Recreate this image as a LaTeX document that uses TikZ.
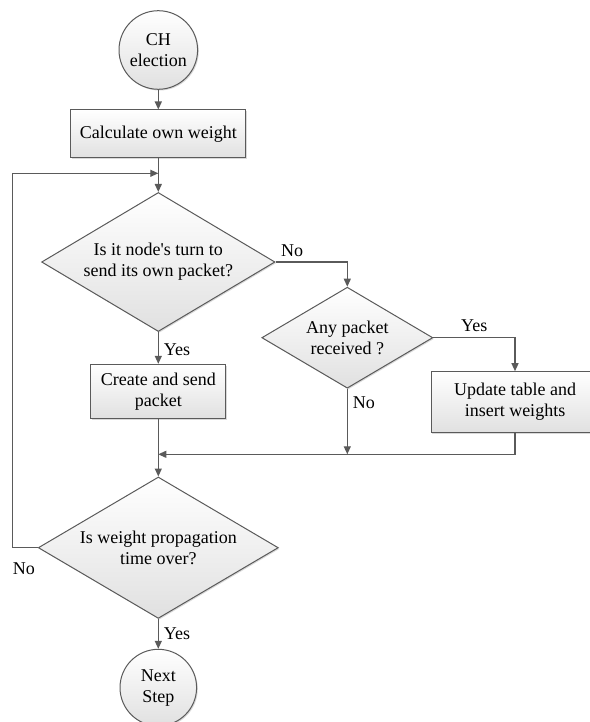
\documentclass[tikz,border=0pt]{standalone}
\usepackage{fontspec}
\setmainfont{Liberation Serif}
\usetikzlibrary{shapes.geometric,arrows.meta,shadows}
\definecolor{edge}{HTML}{5A5A5A}
\begin{document}
\begin{tikzpicture}[x=1pt,y=-1pt,
  font=\fontsize{18}{21}\selectfont,
  shape base/.style={draw=edge, line width=1pt, top color=white, bottom color=black!12,
    align=center, inner sep=0pt,
    drop shadow={shadow xshift=1.2pt, shadow yshift=-1.2pt, opacity=0.25, fill=black!60}},
  terminal/.style={shape base, circle, minimum size=#1},
  process/.style 2 args={shape base, rectangle, minimum width=#1, minimum height=#2},
  decision/.style n args={3}{shape base, diamond, aspect=#3, minimum width=#1, minimum height=#2},
  flow/.style={draw=edge, line width=1.2pt, -{Triangle[length=8pt,width=7pt]}},
  lbl/.style={inner sep=5pt}
]
\useasboundingbox (0,0) rectangle (589,722);

% nodes
\node[terminal=78.6pt] (ch) at (158.3,50) {CH\\election};
\node[process={175.3pt}{48pt}] (calc) at (158.3,134) {Calculate own weight};
\node[decision={233.4pt}{139pt}{1.679}] (d1) at (158.3,262) {Is it node\textquotesingle s turn to\\send its own packet?};
\node[decision={171pt}{101pt}{1.693}] (d2) at (347.3,337.7) {Any packet\\received ?};
\node[process={135pt}{54.4pt}] (create) at (158.3,391.5) {Create and send\\packet};
\node[process={168pt}{60.6pt}] (upd) at (515,402) {Update table and\\insert weights};
\node[decision={240pt}{141.4pt}{1.697}] (d3) at (158.3,547.7) {Is weight propagation\\time over?};
\node[terminal=76.6pt] (next) at (158.3,687.6) {Next\\Step};

% junction points
\coordinate (loopin) at (158.3,173.3);
\coordinate (loopx) at (12.7,547.7);
\coordinate (m2) at (347.3,454.3);
\coordinate (merge) at (158.3,454.3);

% connectors
\draw[flow] (ch) -- (calc);
\draw[flow] (calc) -- (d1);
\draw[flow] (d1.east) -| node[lbl, above right, pos=0]{No} (d2.north);
\draw[flow] (d1) -- node[lbl, right, pos=0.55]{Yes} (create);
\draw[flow] (d2.east) -| node[lbl, above, pos=0.25]{Yes} (upd.north);
\draw[flow] (d2) -- node[lbl, right, pos=0.21]{No} (m2);
\draw[flow] (upd.south) |- (merge);
\draw[flow] (create) -- (d3);
\draw[flow] (d3.west) -- node[lbl, below, pos=0.55, yshift=-9pt]{No} (loopx) |- (loopin);
\draw[flow] (d3) -- node[lbl, right]{Yes} (next);
\end{tikzpicture}
\end{document}
